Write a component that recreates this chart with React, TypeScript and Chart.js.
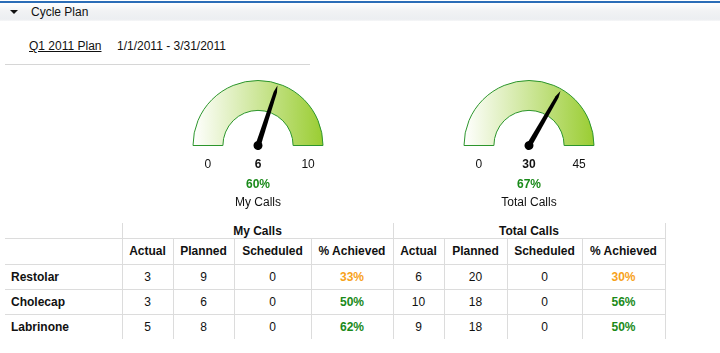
import React, { useEffect, useRef } from "react";
import { Chart, registerables } from "chart.js";

Chart.register(...registerables);

// ---------- data ----------
const sectionTitle = "Cycle Plan";
const planName = "Q1 2011 Plan";
const planDates = "1/1/2011 - 3/31/2011";

const gaugeTitles = ["My Calls", "Total Calls"];
const gaugeValues = [6, 30];
const gaugeMax = [10, 45];
const gaugeMin = [0, 0];

const products = ["Restolar", "Cholecap", "Labrinone"];
const groupTitles = ["My Calls", "Total Calls"];
const columnTitles = ["Actual", "Planned", "Scheduled", "% Achieved"];
const myActual = [3, 3, 5];
const myPlanned = [9, 6, 8];
const myScheduled = [0, 0, 0];
const myAchieved = [33, 50, 62];
const totalActual = [6, 10, 9];
const totalPlanned = [20, 18, 18];
const totalScheduled = [0, 0, 0];
const totalAchieved = [30, 56, 50];

// ---------- styles ----------
const FONT = 'Arial, "Liberation Sans", sans-serif';
const GREEN = "#1a8a1a";
const ORANGE = "#f7a21b";
const TEXT = "#111";
const GRID = "#dcdcdc";

function pctColor(p: number) {
  return p >= 50 ? GREEN : ORANGE;
}

function Gauge({ idx, left, top }: { idx: number; left: number; top: number }) {
  const ref = useRef<HTMLCanvasElement>(null);
  useEffect(() => {
    const canvas = ref.current;
    if (!canvas) return;
    const value = gaugeValues[idx];
    const max = gaugeMax[idx];
    const min = gaugeMin[idx];
    const title = gaugeTitles[idx];
    const H = 140;
    const R = 65;
    const needle = {
      id: "needle",
      afterDatasetsDraw(chart: any) {
        const arc: any = chart.getDatasetMeta(0).data[0];
        const p = arc.getProps(
          ["x", "y", "outerRadius", "innerRadius", "startAngle", "endAngle"],
          true
        );
        const ctx = chart.ctx as CanvasRenderingContext2D;
        const frac = (value - min) / (max - min);
        const ang = p.startAngle + frac * (p.endAngle - p.startAngle);
        const len = p.outerRadius - 2;
        ctx.save();
        ctx.translate(p.x, p.y);
        ctx.rotate(ang);
        ctx.fillStyle = "#000";
        ctx.beginPath();
        ctx.moveTo(0, -2.7);
        ctx.lineTo(len - 7, -1.7);
        ctx.lineTo(len, 0);
        ctx.lineTo(len - 7, 1.7);
        ctx.lineTo(0, 2.7);
        ctx.closePath();
        ctx.fill();
        ctx.beginPath();
        ctx.arc(0, 0, 4.5, 0, Math.PI * 2);
        ctx.fill();
        ctx.restore();

        const mid = (p.outerRadius + p.innerRadius) / 2;
        ctx.save();
        ctx.textAlign = "center";
        ctx.textBaseline = "alphabetic";
        ctx.fillStyle = TEXT;
        ctx.font = `12px ${FONT}`;
        ctx.fillText(String(min), p.x - mid, p.y + 22);
        ctx.fillText(String(max), p.x + mid, p.y + 22);
        ctx.font = `bold 12px ${FONT}`;
        ctx.fillText(String(value), p.x, p.y + 22);
        const pct = Math.round(frac * 100);
        ctx.fillStyle = pctColor(pct);
        ctx.fillText(pct + "%", p.x, p.y + 42.5);
        ctx.fillStyle = TEXT;
        ctx.font = `12px ${FONT}`;
        ctx.fillText(title, p.x, p.y + 60);
        ctx.restore();
      },
    };
    const chart = new Chart(canvas, {
      type: "doughnut",
      data: {
        labels: [title],
        datasets: [
          {
            data: [max - min],
            backgroundColor: (c: any) => {
              const a = c.chart.chartArea;
              if (!a) return "#cde6a0";
              const cx = (a.left + a.right) / 2;
              const g = c.chart.ctx.createLinearGradient(cx - R, 0, cx + R, 0);
              g.addColorStop(0, "#ffffff");
              g.addColorStop(1, "#9acd32");
              return g;
            },
            borderColor: "#2c952c",
            borderWidth: 1,
          },
        ],
      },
      options: {
        responsive: false,
        animation: false,
        events: [],
        rotation: -90,
        circumference: 180,
        cutout: "54%",
        radius: R,
        layout: { padding: { left: 0, right: 0, top: 0, bottom: H - 70 } },
        plugins: { legend: { display: false }, tooltip: { enabled: false } },
      } as any,
      plugins: [needle],
    });
    return () => chart.destroy();
  }, [idx]);
  return (
    <canvas
      ref={ref}
      width={170}
      height={140}
      style={{ position: "absolute", left, top, width: 170, height: 140 }}
    />
  );
}

const colX = [5, 122, 173, 234, 311, 393, 444, 507, 582, 665];
const rowY = [223, 238, 264, 289, 314, 339];

function Cell({
  c0,
  c1,
  r,
  children,
  bold,
  color,
  align,
}: {
  c0: number;
  c1: number;
  r: number;
  children: any;
  bold?: boolean;
  color?: string;
  align?: string;
}) {
  return (
    <div
      style={{
        position: "absolute",
        left: colX[c0],
        top: rowY[r],
        width: colX[c1] - colX[c0],
        height: rowY[r + 1] - rowY[r],
        display: "flex",
        alignItems: "center",
        justifyContent: align === "left" ? "flex-start" : "center",
        paddingLeft: align === "left" ? 6 : 0,
        boxSizing: "border-box",
        fontWeight: bold ? "bold" : "normal",
        color: color || TEXT,
        whiteSpace: "nowrap",
      }}
    >
      {children}
    </div>
  );
}

function Table() {
  const cells: any[] = [];
  groupTitles.forEach((g, gi) => {
    cells.push(
      <Cell key={"g" + gi} c0={1 + gi * 4} c1={5 + gi * 4} r={0} bold>
        {g}
      </Cell>
    );
    columnTitles.forEach((t, ti) => {
      const c = 1 + gi * 4 + ti;
      cells.push(
        <Cell key={"h" + gi + ti} c0={c} c1={c + 1} r={1} bold>
          {t}
        </Cell>
      );
    });
  });
  products.forEach((p, i) => {
    const r = 2 + i;
    cells.push(
      <Cell key={"p" + i} c0={0} c1={1} r={r} bold align="left">
        {p}
      </Cell>
    );
    const vals = [
      [myActual[i], myPlanned[i], myScheduled[i], myAchieved[i]],
      [totalActual[i], totalPlanned[i], totalScheduled[i], totalAchieved[i]],
    ];
    vals.forEach((vs, gi) => {
      vs.forEach((v, vi) => {
        const c = 1 + gi * 4 + vi;
        const isPct = vi === 3;
        cells.push(
          <Cell
            key={"v" + i + gi + vi}
            c0={c}
            c1={c + 1}
            r={r}
            bold={isPct}
            color={isPct ? pctColor(v) : TEXT}
          >
            {isPct ? v + "%" : String(v)}
          </Cell>
        );
      });
    });
  });
  const lines: any[] = [];
  [1, 2, 3, 4].forEach((ri) =>
    lines.push(
      <div
        key={"hl" + ri}
        style={{
          position: "absolute",
          left: colX[0],
          top: rowY[ri],
          width: colX[9] - colX[0],
          height: 1,
          background: GRID,
        }}
      />
    )
  );
  [1, 2, 3, 4, 5, 6, 7, 8, 9].forEach((ci) => {
    const full = ci === 1 || ci === 5 || ci === 9;
    const y0 = full ? rowY[0] : rowY[1];
    lines.push(
      <div
        key={"vl" + ci}
        style={{
          position: "absolute",
          left: colX[ci],
          top: y0,
          width: 1,
          height: rowY[5] - y0,
          background: GRID,
        }}
      />
    );
  });
  return (
    <>
      {lines}
      {cells}
    </>
  );
}

export default function App() {
  return (
    <div
      style={{
        position: "fixed",
        left: 0,
        top: 0,
        width: 720,
        height: 353,
        background: "#fff",
        overflow: "hidden",
        fontFamily: FONT,
        fontSize: 12,
        color: TEXT,
        lineHeight: "14px",
      }}
    >
      <div style={{ position: "absolute", left: 0, top: 1, width: 720, height: 2, background: "#2b6db7" }} />
      <div
        style={{
          position: "absolute",
          left: 0,
          top: 3,
          width: 720,
          height: 18,
          background: "linear-gradient(to bottom, #ffffff 0%, #f1f2f4 45%, #eceef1 90%, #f6f7f8 100%)",
        }}
      />
      <div
        style={{
          position: "absolute",
          left: 10,
          top: 10,
          width: 0,
          height: 0,
          borderLeft: "4px solid transparent",
          borderRight: "4px solid transparent",
          borderTop: "4.5px solid #111",
        }}
      />
      <div style={{ position: "absolute", left: 31, top: 5, whiteSpace: "nowrap" }}>{sectionTitle}</div>
      <div style={{ position: "absolute", left: 29, top: 39, whiteSpace: "nowrap", textDecoration: "underline" }}>
        {planName}
      </div>
      <div style={{ position: "absolute", left: 117, top: 39, whiteSpace: "nowrap" }}>{planDates}</div>
      <div style={{ position: "absolute", left: 5, top: 64, width: 305, height: 1, background: "#d6d6d6" }} />
      <Gauge idx={0} left={258 - 85} top={78} />
      <Gauge idx={1} left={529 - 85} top={78} />
      <Table />
    </div>
  );
}
